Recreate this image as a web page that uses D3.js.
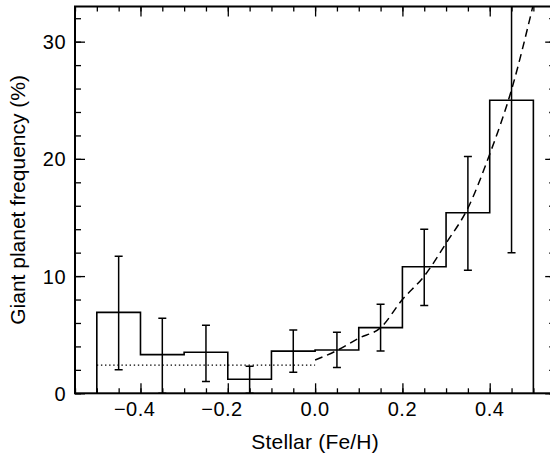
<!DOCTYPE html>
<html>
<head>
<meta charset="utf-8">
<script src="https://cdn.jsdelivr.net/npm/d3@7"></script>
<style>
  body { margin: 0; background: #fff; }
  text { font-family: "Liberation Sans", Arial, Helvetica, sans-serif; fill: #000; }
</style>
</head>
<body>
<svg id="chart" width="550" height="456"></svg>
<script>
// Metallicity bins (edges) and measured planet frequency per bin (%)
const binEdges = [-0.5, -0.4, -0.3, -0.2, -0.1, 0.0, 0.1, 0.2, 0.3, 0.4, 0.5];
const freq     = [6.9, 3.3, 3.5, 1.2, 3.6, 3.7, 5.6, 10.8, 15.4, 25.0];
const errHigh  = [11.7, 6.4, 5.8, 2.3, 5.4, 5.2, 7.6, 14.0, 20.2, 40.0];
const errLow   = [2.0, 0.0, 1.0, 0.0, 1.8, 2.2, 3.6, 7.5, 10.5, 12.0];

// Power-law fit for metal-rich stars (dashed) and flat level for metal-poor stars (dotted)
const fitFeH   = [0.0, 0.05, 0.10, 0.15, 0.20, 0.25, 0.30, 0.35, 0.40, 0.45, 0.50];
const fitFreq  = [2.84, 3.65, 4.7, 5.6, 8.0, 10.0, 12.8, 15.8, 20.4, 25.9, 33.2];
const flatFeH  = [-0.5, 0.0];
const flatFreq = [2.4, 2.4];

// Axis ticks and labels
const xMajor = [-0.4, -0.2, 0.0, 0.2, 0.4];
const xTickLabels = ["−0.4", "−0.2", "0.0", "0.2", "0.4"];
const yMajor = [0, 10, 20, 30];
const yTickLabels = ["0", "10", "20", "30"];
const xTitle = "Stellar (Fe/H)";
const yTitle = "Giant planet frequency (%)";

const svg = d3.select("#chart");
const x = d3.scaleLinear([-0.55, 0.55], [75, 555.2]);
const y = d3.scaleLinear([0, 33], [393.3, 6.5]);
const [xl, xr] = x.range();
const [yb, yt] = y.range();

svg.append("defs").append("clipPath").attr("id", "plotArea")
  .append("rect").attr("x", xl).attr("y", yt).attr("width", xr - xl).attr("height", yb - yt);

// ---- tick marks on all four sides, pointing inward ----
const xMinor = x.ticks(22);
const yMinor = y.ticks(16);
function drawTicks(axis, transform) {
  const g = svg.append("g").attr("transform", transform).call(axis);
  g.select(".domain").remove();
  g.selectAll("line").attr("stroke", "#000").attr("stroke-width", 1.3);
  g.selectAll("text").remove();
}
drawTicks(d3.axisBottom(x).tickValues(xMinor).tickSize(-5).tickSizeOuter(0), `translate(0,${yb})`);
drawTicks(d3.axisBottom(x).tickValues(xMajor).tickSize(-10).tickSizeOuter(0), `translate(0,${yb})`);
drawTicks(d3.axisTop(x).tickValues(xMinor).tickSize(-5).tickSizeOuter(0), `translate(0,${yt})`);
drawTicks(d3.axisTop(x).tickValues(xMajor).tickSize(-10).tickSizeOuter(0), `translate(0,${yt})`);
drawTicks(d3.axisLeft(y).tickValues(yMinor).tickSize(-6).tickSizeOuter(0), `translate(${xl},0)`);
drawTicks(d3.axisLeft(y).tickValues(yMajor).tickSize(-10).tickSizeOuter(0), `translate(${xl},0)`);
drawTicks(d3.axisRight(y).tickValues(yMinor).tickSize(-6).tickSizeOuter(0), `translate(${xr},0)`);
drawTicks(d3.axisRight(y).tickValues(yMajor).tickSize(-10).tickSizeOuter(0), `translate(${xr},0)`);

// ---- frame ----
svg.append("rect")
  .attr("x", xl).attr("y", yt).attr("width", xr - xl).attr("height", yb - yt)
  .attr("fill", "none").attr("stroke", "#000").attr("stroke-width", 2);

// ---- tick labels ----
// numbers are centred on the tick; a leading minus sign hangs to the left
const probe = svg.append("text").attr("font-size", 20).text("−");
const minusW = probe.node().getComputedTextLength();
probe.remove();
svg.append("g").selectAll("text").data(xMajor).join("text")
  .attr("x", (d, i) => x(d) - (xTickLabels[i].startsWith("−") ? minusW / 2 : 0))
  .attr("y", 415.5)
  .attr("text-anchor", "middle")
  .attr("font-size", 20)
  .attr("letter-spacing", 0.5)
  .text((d, i) => xTickLabels[i]);
svg.append("g").selectAll("text").data(yMajor).join("text")
  .attr("x", 66.5)
  .attr("y", d => y(d) + 7.5)
  .attr("text-anchor", "end")
  .attr("font-size", 20)
  .attr("letter-spacing", 0.8)
  .text((d, i) => yTickLabels[i]);

// ---- axis titles ----
svg.append("text")
  .attr("x", (xl + xr) / 2).attr("y", 449.3)
  .attr("text-anchor", "middle").attr("font-size", 21)
  .attr("letter-spacing", 0.2)
  .text(xTitle);
svg.append("text")
  .attr("transform", `translate(24.5,${(yt + yb) / 2}) rotate(-90)`)
  .attr("text-anchor", "middle").attr("font-size", 21)
  .text(yTitle);

// ---- data marks ----
const plot = svg.append("g").attr("clip-path", "url(#plotArea)");

// histogram outline
const stepPts = [[binEdges[0], 0]];
freq.forEach((f, i) => { stepPts.push([binEdges[i], f], [binEdges[i + 1], f]); });
stepPts.push([binEdges[binEdges.length - 1], 0]);
const line = d3.line().x(d => x(d[0])).y(d => y(d[1]));
plot.append("path").attr("d", line(stepPts))
  .attr("fill", "none").attr("stroke", "#000").attr("stroke-width", 1.6);

// error bars at bin centres
const centres = freq.map((f, i) => (binEdges[i] + binEdges[i + 1]) / 2);
const cap = 4;
const eb = plot.append("g").attr("stroke", "#000").attr("stroke-width", 1.5);
centres.forEach((c, i) => {
  eb.append("line").attr("x1", x(c)).attr("x2", x(c)).attr("y1", y(errLow[i])).attr("y2", y(errHigh[i]));
  eb.append("line").attr("x1", x(c) - cap).attr("x2", x(c) + cap).attr("y1", y(errLow[i])).attr("y2", y(errLow[i]));
  eb.append("line").attr("x1", x(c) - cap).attr("x2", x(c) + cap).attr("y1", y(errHigh[i])).attr("y2", y(errHigh[i]));
});

// flat level for metal-poor stars
plot.append("path")
  .attr("d", d3.line().x(d => x(d[0])).y(d => y(d[1]))(flatFeH.map((v, i) => [v, flatFreq[i]])))
  .attr("fill", "none").attr("stroke", "#000").attr("stroke-width", 1.4)
  .attr("stroke-dasharray", "1.4,2.7");

// power-law fit
plot.append("path")
  .attr("d", d3.line().curve(d3.curveMonotoneX).x(d => x(d[0])).y(d => y(d[1]))(fitFeH.map((v, i) => [v, fitFreq[i]])))
  .attr("fill", "none").attr("stroke", "#000").attr("stroke-width", 1.5)
  .attr("stroke-dasharray", "8,5");
</script>
</body>
</html>
